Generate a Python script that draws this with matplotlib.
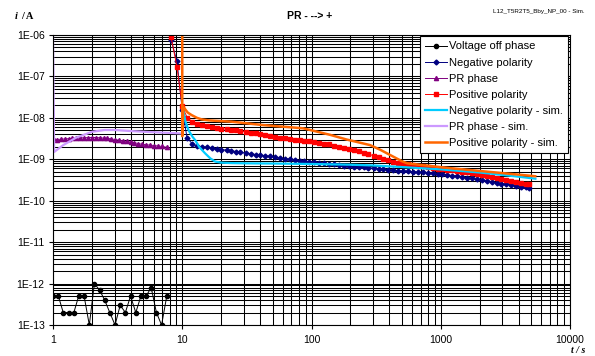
import matplotlib
matplotlib.use("Agg")
import matplotlib.pyplot as plt
from matplotlib.ticker import LogLocator, FuncFormatter, NullFormatter
import numpy as np

plt.rcParams['font.family'] = ['Liberation Sans', 'DejaVu Sans']

# voltage off phase (measured)
t_off = [1.0, 1.1, 1.2, 1.32, 1.45, 1.58, 1.74, 1.91, 2.09, 2.29, 2.51, 2.75,
         3.02, 3.31, 3.63, 3.98, 4.37, 4.79, 5.25, 5.75, 6.31, 6.92, 7.59]
i_off = [5e-13, 5e-13, 2e-13, 2e-13, 2e-13, 5e-13, 5e-13, 1e-13, 1e-12, 7e-13, 4e-13, 2e-13,
         1e-13, 3e-13, 2e-13, 5e-13, 2e-13, 5e-13, 5e-13, 8e-13, 2e-13, 1e-13, 5e-13]

# PR phase (measured)
t_pr = [1.0, 1.07, 1.15, 1.23, 1.32, 1.41, 1.51, 1.62, 1.74, 1.86, 2.0, 2.14, 2.29,
        2.46, 2.63, 2.82, 3.02, 3.24, 3.47, 3.72, 3.98, 4.27, 4.57, 4.9, 5.25, 5.62,
        6.03, 6.46, 6.92, 7.6]
i_pr = [3.2e-9, 3.0e-9, 3.05e-9, 3.1e-9, 3.15e-9, 3.2e-9, 3.25e-9, 3.3e-9, 3.3e-9, 3.35e-9,
        3.35e-9, 3.35e-9, 3.3e-9, 3.25e-9, 3.2e-9, 3.1e-9, 3.0e-9, 2.9e-9, 2.8e-9, 2.7e-9,
        2.6e-9, 2.5e-9, 2.4e-9, 2.3e-9, 2.25e-9, 2.2e-9, 2.15e-9, 2.1e-9, 2.05e-9, 1.95e-9]

# negative / positive polarity (measured), common time base
t_pol = [8.2, 9.1, 10.0, 10.9, 11.9, 13.0, 14.2, 15.5, 17.0, 18.5, 20, 22, 24, 26, 28,
         31, 34, 37, 40, 44, 48, 52, 57, 62, 68, 74, 81, 88, 96, 105, 115, 125, 137,
         150, 163, 178, 195, 212, 232, 253, 276, 302, 330, 360, 393, 429, 468, 511,
         558, 609, 665, 726, 792, 865, 944, 1030, 1125, 1228, 1340, 1463, 1597, 1743,
         1903, 2077, 2267, 2475, 2702, 2950, 3220, 3515, 3837, 4189, 4573, 4800]
i_neg = [7.6e-7, 2.3e-7, 1.55e-8, 3.3e-9, 2.4e-9, 2.1e-9, 2.0e-9, 1.94e-9, 1.86e-9, 1.78e-9,
         1.72e-9, 1.66e-9, 1.6e-9, 1.54e-9, 1.48e-9, 1.42e-9, 1.36e-9, 1.3e-9, 1.26e-9,
         1.21e-9, 1.17e-9, 1.12e-9, 1.08e-9, 1.04e-9, 1.0e-9, 9.6e-10, 9.3e-10, 9.0e-10,
         8.8e-10, 8.6e-10, 8.3e-10, 8.0e-10, 7.7e-10, 7.5e-10, 7.2e-10, 7.0e-10, 6.8e-10,
         6.6e-10, 6.5e-10, 6.4e-10, 6.3e-10, 6.1e-10, 5.9e-10, 5.7e-10, 5.6e-10, 5.45e-10,
         5.3e-10, 5.2e-10, 5.1e-10, 5.0e-10, 4.9e-10, 4.8e-10, 4.7e-10, 4.6e-10, 4.5e-10,
         4.35e-10, 4.2e-10, 4.05e-10, 3.9e-10, 3.75e-10, 3.6e-10, 3.45e-10, 3.3e-10,
         3.15e-10, 3.0e-10, 2.85e-10, 2.7e-10, 2.6e-10, 2.5e-10, 2.4e-10, 2.3e-10, 2.2e-10,
         2.1e-10, 2.05e-10]
i_pos = [8.8e-7, 1.7e-7, 1.9e-8, 1.02e-8, 8.1e-9, 7.2e-9, 6.7e-9, 6.3e-9, 6.0e-9, 5.7e-9,
         5.5e-9, 5.3e-9, 5.15e-9, 5.0e-9, 4.8e-9, 4.6e-9, 4.4e-9, 4.2e-9, 4.0e-9, 3.8e-9,
         3.6e-9, 3.45e-9, 3.3e-9, 3.2e-9, 3.1e-9, 3.0e-9, 2.9e-9, 2.8e-9, 2.7e-9, 2.6e-9,
         2.5e-9, 2.4e-9, 2.3e-9, 2.15e-9, 2.0e-9, 1.9e-9, 1.8e-9, 1.7e-9, 1.58e-9, 1.45e-9,
         1.33e-9, 1.22e-9, 1.12e-9, 1.02e-9, 9.5e-10, 8.8e-10, 8.3e-10, 7.9e-10, 7.6e-10,
         7.3e-10, 7.0e-10, 6.7e-10, 6.4e-10, 6.1e-10, 5.9e-10, 5.8e-10, 5.6e-10, 5.4e-10,
         5.2e-10, 5.0e-10, 4.8e-10, 4.6e-10, 4.4e-10, 4.2e-10, 4.0e-10, 3.8e-10, 3.6e-10,
         3.4e-10, 3.2e-10, 3.05e-10, 2.9e-10, 2.75e-10, 2.6e-10, 2.5e-10]

# simulations
t_neg_sim = [10.2, 10.6, 11.2, 12.0, 12.6, 13.5, 15.0, 16.5, 18.0, 20, 24, 30, 50, 100,
             200, 300, 500, 1000, 2000, 3000, 4000, 5400]
i_neg_sim = [1.5e-8, 8e-9, 5e-9, 3.5e-9, 2.9e-9, 2.0e-9, 1.4e-9, 1.05e-9, 8.8e-10, 8.3e-10,
             8.1e-10, 8.0e-10, 7.9e-10, 7.7e-10, 7.4e-10, 7.1e-10, 6.5e-10, 5.7e-10, 4.8e-10,
             4.2e-10, 3.8e-10, 3.4e-10]

t_pr_sim = [1.0, 1.02, 1.2, 1.5, 2.0, 2.5, 3.0, 4.0, 6.0, 9.9]
i_pr_sim = [1e-6, 1.5e-9, 2.2e-9, 3.3e-9, 4.6e-9, 5.1e-9, 5.1e-9, 4.8e-9, 4.5e-9, 4.2e-9]

t_pos_sim = [10.0, 10.0, 10.2, 11.0, 11.8, 13.0, 14.1, 16.0, 18.0, 24, 42, 86, 139, 187,
             284, 340, 420, 500, 550, 700, 1250, 2500, 5380]
i_pos_sim = [1e-5, 3.6e-9, 1.85e-8, 1.35e-8, 1.17e-8, 1.0e-8, 9.2e-9, 8.7e-9, 8.5e-9, 8.1e-9,
             6.7e-9, 5.6e-9, 3.9e-9, 3.0e-9, 2.2e-9, 1.7e-9, 1.2e-9, 9e-10, 8e-10, 7.3e-10,
             6.0e-10, 4.9e-10, 3.9e-10]

fig = plt.figure(figsize=(5.95, 3.56), dpi=100)
ax = fig.add_axes([53 / 595, 1 - 325 / 356, 517 / 595, 290 / 356])

ax.plot(t_off, i_off, color='black', lw=0.7, marker='o', ms=3, label='Voltage off phase')
ax.plot(t_pol, i_neg, color='#000080', lw=0.7, marker='D', ms=2.5, label='Negative polarity')
ax.plot(t_pr, i_pr, color='#800080', lw=0.7, marker='^', ms=3, label='PR phase')
ax.plot(t_pol, i_pos, color='#FF0000', lw=0.7, marker='s', ms=3.2, label='Positive polarity')
ax.plot(t_neg_sim, i_neg_sim, color='#00CCFF', lw=1.6, label='Negative polarity - sim.')
ax.plot(t_pr_sim, i_pr_sim, color='#CC99FF', lw=1.6, label='PR phase - sim.')
ax.plot(t_pos_sim, i_pos_sim, color='#FF6600', lw=1.8, label='Positive polarity - sim.')

ax.set_xscale('log')
ax.set_yscale('log')
ax.set_xlim(1, 10000)
ax.set_ylim(1e-13, 1e-6)

ax.xaxis.set_major_locator(LogLocator(base=10, numticks=10))
ax.xaxis.set_minor_locator(LogLocator(base=10, subs=np.arange(2, 10), numticks=20))
ax.yaxis.set_major_locator(LogLocator(base=10, numticks=12))
ax.yaxis.set_minor_locator(LogLocator(base=10, subs=np.arange(2, 10), numticks=20))
ax.xaxis.set_major_formatter(FuncFormatter(lambda v, p: f"{v:.0f}"))
ax.yaxis.set_major_formatter(FuncFormatter(lambda v, p: f"1E{int(round(np.log10(v))):03d}"))
ax.xaxis.set_minor_formatter(NullFormatter())
ax.yaxis.set_minor_formatter(NullFormatter())

ax.grid(True, which='both', color='black', lw=0.75)
ax.set_axisbelow(True)
ax.tick_params(which='major', direction='out', length=3, width=0.8, labelsize=7.5, pad=3)
ax.tick_params(which='minor', length=0)
ax.tick_params(axis='x', pad=4)
for s in ax.spines.values():
    s.set_linewidth(0.8)

leg = ax.legend(loc='upper right', bbox_to_anchor=(0.996, 0.995), fontsize=8,
                fancybox=False, framealpha=1, edgecolor='black', handlelength=2.0,
                handletextpad=0.15, borderpad=0.45, labelspacing=0.55, borderaxespad=0)
leg.get_frame().set_linewidth(0.8)

fig.text(0.521, 0.955, 'PR - --> +', ha='center', va='center', fontsize=7.5, weight='bold')
fig.text(0.983, 0.968, 'L12_T5R2T5_Bby_NP_00 - Sim.', ha='right', va='center', fontsize=4.5)
fig.text(0.025, 0.955, 'i', ha='left', va='center', fontsize=7.5, weight='bold',
         style='italic', family='Liberation Serif')
fig.text(0.036, 0.955, '/ A', ha='left', va='center', fontsize=7.5, weight='bold',
         family='Liberation Serif')
fig.text(0.983, 0.004, 't / s', ha='right', va='bottom', fontsize=7, weight='bold',
         style='italic', family='Liberation Serif')

fig.savefig('out.png', dpi=100)
